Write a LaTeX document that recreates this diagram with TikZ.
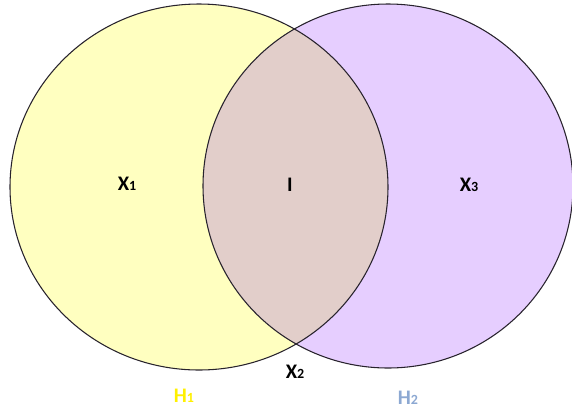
\documentclass[tikz,border=0pt]{standalone}
\usepackage{fontspec}
\setmainfont{Carlito}
\definecolor{yel}{RGB}{255,255,192}
\definecolor{pur}{RGB}{230,206,255}
\definecolor{mix}{RGB}{226,206,202}
\definecolor{hone}{RGB}{255,240,0}
\definecolor{htwo}{RGB}{140,168,210}
\definecolor{edge}{RGB}{40,35,45}
\tikzset{
  lbl/.style={font=\fontsize{15.5}{17}\selectfont\bfseries, inner sep=0pt, text=black},
  rim/.style={draw=edge, line width=0.8pt}
}
\newcommand{\sbs}[1]{{\fontsize{10.5}{12}\selectfont #1}}
\begin{document}
\begin{tikzpicture}[x=0.75pt,y=-0.75pt]
\useasboundingbox (0,0) rectangle (572,412);
\fill[yel] (199,187) ellipse [x radius=189, y radius=183];
\fill[pur] (388,186) ellipse [x radius=185, y radius=182];
\begin{scope}
  \clip (199,187) ellipse [x radius=189, y radius=183];
  \fill[mix] (388,186) ellipse [x radius=185, y radius=182];
\end{scope}
\draw[rim] (199,187) ellipse [x radius=189, y radius=183];
\draw[rim] (388,186) ellipse [x radius=185, y radius=182];
\node[lbl] (x1) at (127,184) {X\sbs{1}};
\node[lbl] (i) at (290,185) {I};
\node[lbl] (x3) at (469,185) {X\sbs{3}};
\node[lbl] (x2) at (295,372) {X\sbs{2}};
\node[lbl, text=hone] (h1) at (184,396) {H\sbs{1}};
\node[lbl, text=htwo] (h2) at (408,398) {H\sbs{2}};
\end{tikzpicture}
\end{document}
